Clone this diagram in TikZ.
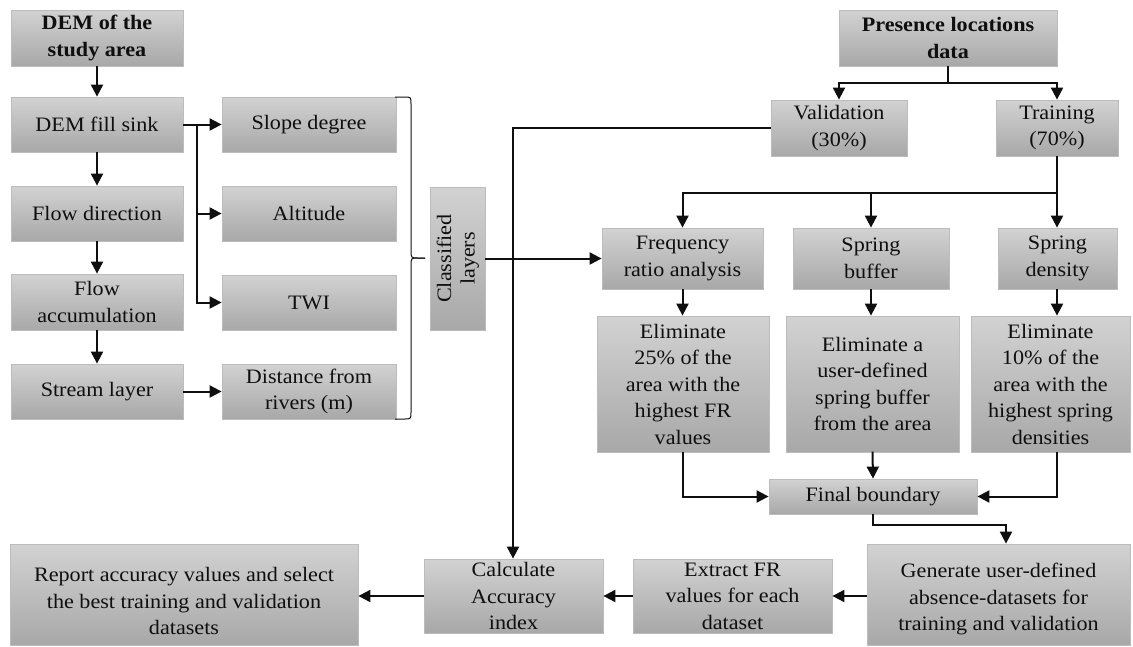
\documentclass[tikz,border=0pt]{standalone}
\usepackage{fontspec}
\setmainfont{Liberation Serif}[FakeStretch=1.08]
\usetikzlibrary{arrows.meta,calc}
\definecolor{boxtop}{RGB}{210,210,210}
\definecolor{boxbot}{RGB}{168,168,168}
\definecolor{boxline}{RGB}{188,188,188}
\definecolor{ink}{RGB}{15,15,15}
\begin{document}
\begin{tikzpicture}[x=1pt,y=-1pt,
  box/.style={draw=boxline, line width=0.8pt, top color=boxtop, bottom color=boxbot,
    align=center, inner sep=0pt, text=ink, font=\fontsize{20.5}{26.5}\selectfont},
  txt/.style={align=center, inner sep=0pt, text=ink, font=\fontsize{20.5}{26.5}\selectfont},
  conn/.style={line width=2pt, draw=ink, -{Triangle[length=12pt,width=12pt]}},
  plain/.style={line width=2pt, draw=ink}]
\useasboundingbox (0,0) rectangle (1133,646);

% left column
\node[box, minimum width=172pt, minimum height=56pt] (dem) at (97,38) {\bfseries DEM of the\\\bfseries study area};
\node[box, minimum width=172pt, minimum height=55pt] (fill) at (97,124.5) {DEM fill sink};
\node[box, minimum width=172pt, minimum height=55pt] (flowdir) at (97,213.5) {Flow direction};
\node[box, minimum width=172pt, minimum height=56pt] (flowacc) at (97,302) {Flow\\accumulation};
\node[box, minimum width=172pt, minimum height=55pt] (stream) at (97,391.5) {Stream layer};

% second column
\node[box, minimum width=174pt, minimum height=55pt] (slope) at (309,124.5) {Slope degree};
\node[box, minimum width=174pt, minimum height=55pt] (alt) at (309,213.5) {Altitude};
\node[box, minimum width=174pt, minimum height=55pt] (twi) at (309,302.5) {TWI};
\node[box, minimum width=174pt, minimum height=55pt] (dist) at (309,391.5) {Distance from\\rivers (m)};

% classified layers
\node[box, minimum width=55pt, minimum height=143pt] (class) at (457.5,258.5)
  {\rotatebox{90}{\begin{tabular}{@{}c@{}}Classified\\[-3pt]layers\end{tabular}}};

% right part
\node[box, minimum width=218pt, minimum height=56pt] (pres) at (948,38) {\bfseries Presence locations\\\bfseries data};
\node[box, minimum width=136pt, minimum height=56pt] (valid) at (839,128) {Validation\\(30\%)};
\node[box, minimum width=122pt, minimum height=56pt] (train) at (1057,128) {Training\\(70\%)};

\node[box, minimum width=161pt, minimum height=61pt] (freq) at (682.5,258.5) {Frequency\\ratio analysis};
\node[box, minimum width=156pt, minimum height=61pt] (sbuf) at (871,258.5) {Spring\\buffer};
\node[box, minimum width=119pt, minimum height=61pt] (sden) at (1057.5,258.5) {Spring\\density};

\node[box, minimum width=172pt, minimum height=136pt] (e25) at (683,384) {Eliminate\\25\% of the\\area with the\\highest FR\\values};
\node[box, minimum width=173pt, minimum height=136pt] (ebuf) at (872.5,384) {Eliminate a\\user-defined\\spring buffer\\from the area};
\node[box, minimum width=159pt, minimum height=136pt] (e10) at (1050.5,384) {Eliminate\\10\% of the\\area with the\\highest spring\\densities};

\node[box, minimum width=208pt, minimum height=35pt] (final) at (873,496.5) {Final boundary};

\node[box, minimum width=263pt, minimum height=101pt] (gen) at (998.5,594.5) {};
\node[txt] (gentxt) at (998.5,599) {Generate user-defined\\absence-datasets for\\training and validation};
\node[box, minimum width=199pt, minimum height=74pt] (extract) at (732.5,596) {Extract FR\\values for each\\dataset};
\node[box, minimum width=179pt, minimum height=74pt] (calc) at (513.5,596) {Calculate\\Accuracy\\index};
\node[box, minimum width=348pt, minimum height=101pt] (report) at (184,594.5) {};
\node[txt] (reptxt) at (184,601) {Report accuracy values and select\\the best training and validation\\datasets};

% connectors left
\draw[conn] (dem) -- (fill);
\draw[conn] (fill) -- (flowdir);
\draw[conn] (flowdir) -- (flowacc);
\draw[conn] (flowacc) -- (stream);
\draw[conn] (fill.east) -- (slope.west);
\coordinate (b1) at (197,124.5);
\draw[conn] (b1) |- (twi.west);
\draw[conn] (b1 |- alt.west) -- (alt.west);
\draw[conn] (stream) -- (dist);

% brace
\coordinate (bt) at (395,97);
\coordinate (bb) at (395,419);
\coordinate (tip) at (425,258);
\draw[ink, line width=1pt] (bt) -- (404,97) .. controls (411,97) .. (411,104) -- (411,250)
  .. controls (411,258) .. (418,258) -- (tip);
\draw[ink, line width=1pt] (tip) -- (418,258) .. controls (411,258) .. (411,266) -- (411,412)
  .. controls (411,419) .. (404,419) -- (bb);

\draw[conn] (class) -- (freq);

% validation to calc
\coordinate (vc) at (513,128);
\draw[conn] (valid.west) -- (vc) -- (vc |- calc.north);

% presence split
\coordinate (ps) at (948,83);
\draw[plain] (pres.south) -- (ps);
\draw[conn] (ps) -| (valid.north);
\draw[conn] (ps) -| (train.north);

% training split
\coordinate (ts) at (1057,193);
\draw[plain] (train.south) -- (ts);
\draw[conn] (ts) -| (freq.north);
\draw[conn] (ts) -| (sbuf.north);
\draw[conn] (ts) -- (ts |- sden.north);

\draw[conn] (freq.south) -- (freq.south |- e25.north);
\draw[conn] (sbuf.south) -- (sbuf.south |- ebuf.north);
\draw[conn] (ts |- sden.south) -- (ts |- e10.north);

\draw[conn] (e25.south) |- (final.west);
\draw[conn] (final.north -| ebuf.south) ++(0,-27) -- (final.north);
\draw[conn] (ts |- e10.south) |- (final.east);

\coordinate (g) at (1006,525);
\draw[conn] (final.south) |- (g) -- (g |- gen.north);

\draw[conn] (gen.west |- extract.east) -- (extract.east);
\draw[conn] (extract) -- (calc);
\draw[conn] (calc.west) -- (calc.west -| report.east);
\end{tikzpicture}
\end{document}
